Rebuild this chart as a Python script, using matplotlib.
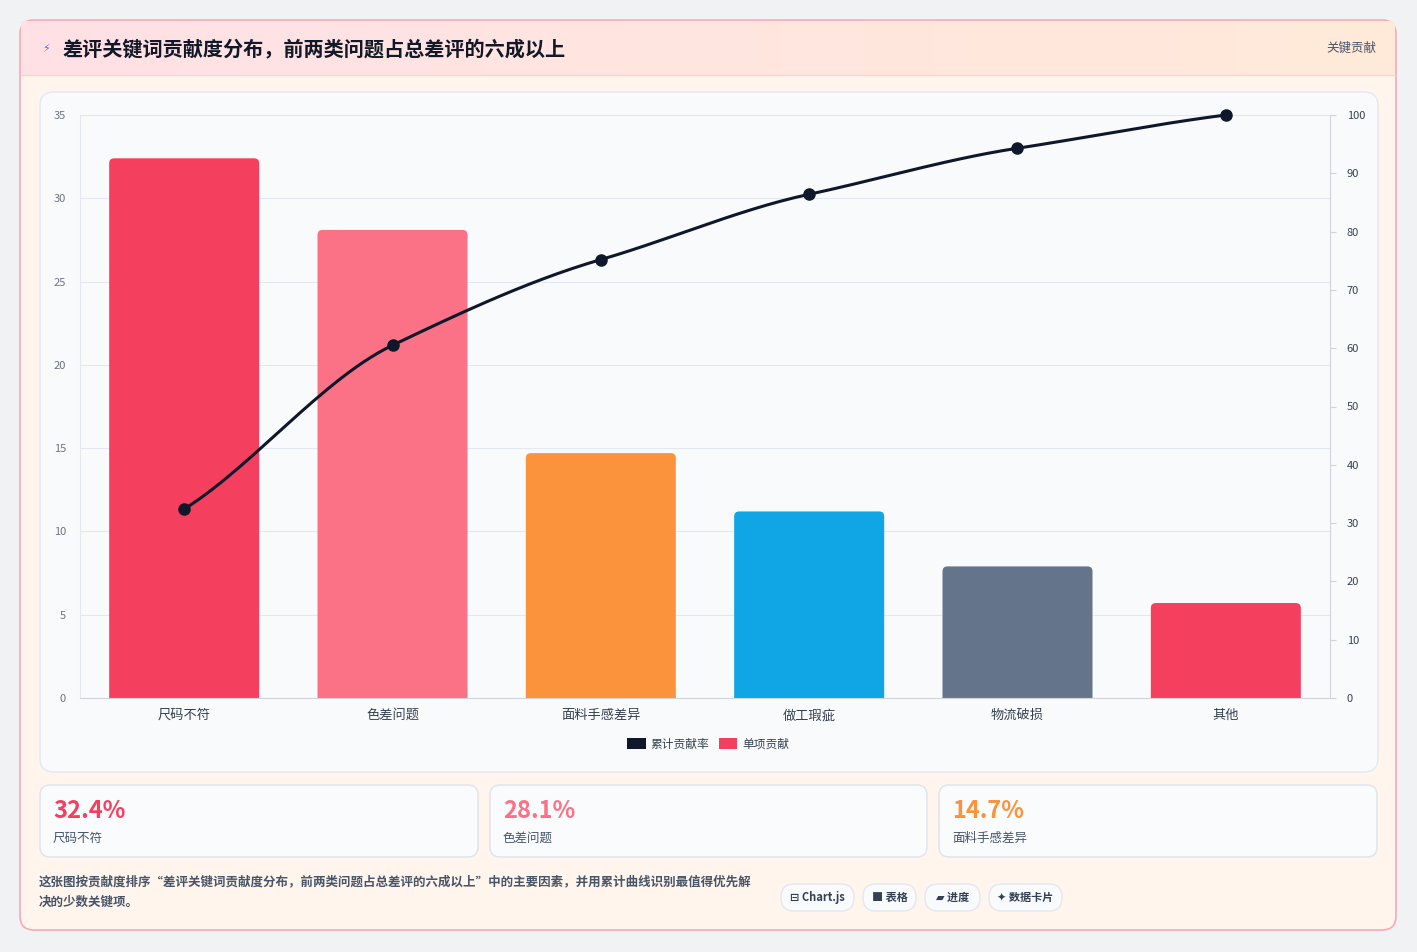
import matplotlib
matplotlib.use("Agg")
import matplotlib.pyplot as plt
import numpy as np
from matplotlib.patches import FancyBboxPatch, Rectangle
from matplotlib.colors import LinearSegmentedColormap

plt.rcParams['font.family'] = ['Noto Sans CJK SC', 'DejaVu Sans']

categories = ["尺码不符", "色差问题", "面料手感差异", "做工瑕疵", "物流破损", "其他"]
shares = [32.4, 28.1, 14.7, 11.2, 7.9, 5.7]
cumulative = [32.4, 60.5, 75.2, 86.4, 94.3, 100.0]
bar_colors = ["#f43f5e", "#fb7185", "#fb923c", "#10a5e5", "#64748b", "#f43f5e"]
kpi_values = ["32.4%", "28.1%", "14.7%"]
kpi_labels = ["尺码不符", "色差问题", "面料手感差异"]
kpi_colors = ["#f43f5e", "#fb7185", "#fb923c"]
title = "差评关键词贡献度分布，前两类问题占总差评的六成以上"
badges = ["⊟ Chart.js", "■ 表格", "▰ 进度", "✦ 数据卡片"]

W, H = 1417, 952
fig = plt.figure(figsize=(W/100, H/100), dpi=100)
fig.patch.set_facecolor("#f1f2f4")
bg = fig.add_axes([0, 0, 1, 1]); bg.set_xlim(0, W); bg.set_ylim(H, 0); bg.axis("off")

def rbox(x0, y0, x1, y1, fc, ec, r=10, lw=1, z=1):
    bg.add_patch(FancyBboxPatch((x0, y0), x1-x0, y1-y0, boxstyle=f"round,pad=0,rounding_size={r}",
                                fc=fc, ec=ec, lw=lw, zorder=z))

rbox(20, 20, 1396, 930, "#fff5ec", "#f9a8b8", r=14, lw=1.2)
grad = np.linspace(0, 1, 256)[None, :]
cm = LinearSegmentedColormap.from_list("h", ["#ffe1e6", "#ffead9"])
bg.imshow(grad, extent=(21, 1395, 75, 21), cmap=cm, aspect="auto", zorder=2)
bg.plot([21, 1395], [75, 75], color="#f7d3d6", lw=1, zorder=3)
bg.text(42, 49, "⚡", color="#5b6ee1", fontsize=8, va="center", zorder=4)
bg.text(62, 49, title, fontsize=14.5, fontweight="bold", color="#111827", va="center", zorder=4)
bg.text(1376, 48, "关键贡献", fontsize=9, color="#475569", va="center", ha="right", zorder=4)

rbox(40, 92, 1378, 772, "#f9fafc", "#e3e8f0", r=14, z=2)

for i, (x0, x1) in enumerate([(40, 478), (490, 927), (939, 1377)]):
    rbox(x0, 785, x1, 857, "#f9fbfd", "#dde4ee", r=10, z=2)
    bg.text(x0+13, 811, kpi_values[i], fontsize=17, fontweight="heavy", color=kpi_colors[i], va="center", zorder=3)
    bg.text(x0+13, 838, kpi_labels[i], fontsize=9, color="#475569", va="center", zorder=3)

bg.text(39, 882, "这张图按贡献度排序“差评关键词贡献度分布，前两类问题占总差评的六成以上”中的主要因素，并用累计曲线识别最值得优先解",
        fontsize=9, color="#475569", va="center", fontweight="bold")
bg.text(39, 902, "决的少数关键项。", fontsize=9, color="#475569", va="center", fontweight="bold")
bx = [(781, 854), (863, 916), (925, 980), (989, 1062)]
for (x0, x1), t in zip(bx, badges):
    rbox(x0, 884, x1, 911, "#f8fafc", "#e2e8f0", r=13, z=2)
    bg.text((x0+x1)/2, 897.5, t, fontsize=8, color="#334155", ha="center", va="center", fontweight="bold", zorder=3)

L, R, T, B = 80, 1330, 115, 698
ax = fig.add_axes([L/W, 1-B/H, (R-L)/W, (B-T)/H])
ax.set_facecolor("none")
x = np.arange(len(categories))
ax.set_xlim(-0.5, len(categories)-0.5)
ax.set_ylim(0, 35)
xu = 6/(R-L); yu = 35/(B-T)
for xi, v, c in zip(x, shares, bar_colors):
    ax.add_patch(FancyBboxPatch((xi-0.36, -1), 0.72, v+1, boxstyle=f"round,pad=0,rounding_size={5*xu}",
                                mutation_aspect=yu/xu, fc=c, ec="none", zorder=2))
ax.set_yticks(range(0, 36, 5))
ax.set_xticks(x); ax.set_xticklabels(categories, fontsize=9.5, color="#374151")
ax.tick_params(axis="y", labelsize=8, colors="#6b7280", length=0, pad=10)
ax.tick_params(axis="x", length=0, pad=8)
ax.grid(axis="y", color="#e3e8f0", lw=0.8, zorder=0)
for s in ["top", "right"]:
    ax.spines[s].set_visible(False)
ax.spines["left"].set_color("#e3e8f0"); ax.spines["bottom"].set_color("#d1d5db")
ax.spines["bottom"].set_zorder(5)

ax2 = ax.twinx()
ax2.set_ylim(0, 100)
ax2.set_yticks(range(0, 101, 10))
ax2.tick_params(axis="y", labelsize=8, colors="#374151", length=4, color="#d1d5db", pad=8)
for s in ["top", "left", "bottom"]:
    ax2.spines[s].set_visible(False)
ax2.spines["right"].set_color("#d1d5db")
cy = np.array(cumulative, float)
m = np.gradient(cy, x)
xs, ys = [], []
for i in range(len(x)-1):
    t = np.linspace(0, 1, 30)
    h00 = 2*t**3-3*t**2+1; h10 = t**3-2*t**2+t; h01 = -2*t**3+3*t**2; h11 = t**3-t**2
    xs.append(x[i]+t); ys.append(h00*cy[i]+h10*m[i]*0.8+h01*cy[i+1]+h11*m[i+1]*0.8)
ax2.plot(np.concatenate(xs), np.concatenate(ys), color="#0f172a", lw=2.2, zorder=3, clip_on=False)
ax2.plot(x, cy, "o", color="#0f172a", ms=8, zorder=4, clip_on=False)

handles = [Rectangle((0, 0), 1, 1, fc="#0f172a"), Rectangle((0, 0), 1, 1, fc="#f43f5e")]
fig.legend(handles, ["累计贡献率", "单项贡献"], loc="center", bbox_to_anchor=(708/W, 1-744/H), ncol=2,
           frameon=False, fontsize=8.5, handlelength=1.6, handleheight=1.0, columnspacing=0.8, handletextpad=0.4,
           labelcolor="#374151")

fig.savefig("out.png", dpi=100, facecolor=fig.get_facecolor())
